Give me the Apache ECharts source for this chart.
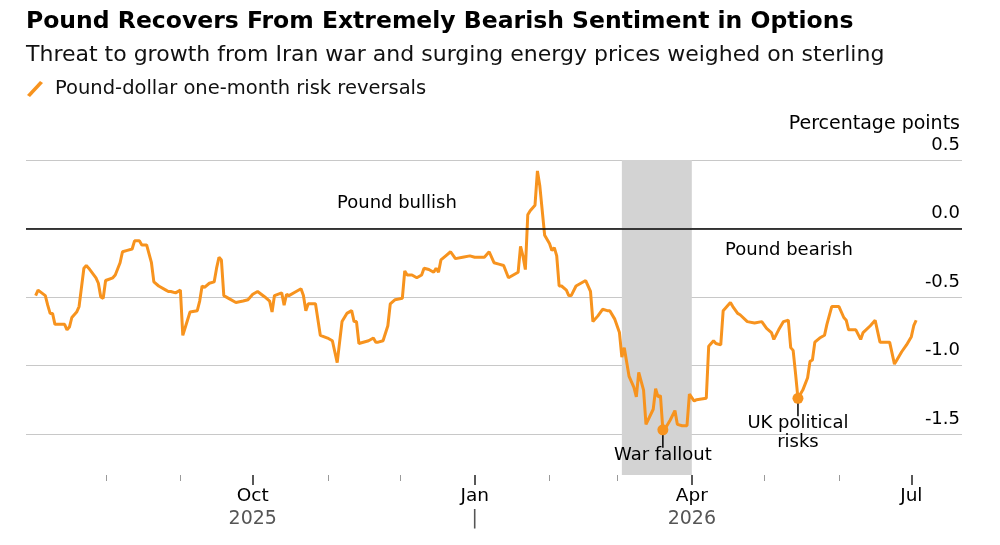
<!DOCTYPE html>
<html>
<head>
    <meta charset="utf-8">
    <title>Pound risk reversals</title>
    <script src="https://cdn.jsdelivr.net/npm/echarts@6/dist/echarts.min.js"></script>
    <style>
        html, body { margin: 0; padding: 0; background: #fff; }
        #main { width: 1000px; height: 545px; }
    </style>
</head>
<body>
<div id="main"></div>
<script>
    var titleText = 'Pound Recovers From Extremely Bearish Sentiment in Options';
    var subtitleText = 'Threat to growth from Iran war and surging energy prices weighed on sterling';
    var seriesName = 'Pound-dollar one-month risk reversals';

    // one-month risk reversals, percentage points
    var dates = [
        '2025-07-03', '2025-07-04', '2025-07-07', '2025-07-08', '2025-07-09', '2025-07-10', '2025-07-11', '2025-07-14', '2025-07-15', '2025-07-16', '2025-07-17', '2025-07-18', '2025-07-20', '2025-07-21', '2025-07-23', '2025-07-24', '2025-07-25', '2025-07-28', '2025-07-29', '2025-07-30', '2025-07-31',
        '2025-08-01', '2025-08-04', '2025-08-05', '2025-08-07', '2025-08-08', '2025-08-10', '2025-08-12', '2025-08-13', '2025-08-15', '2025-08-16', '2025-08-18', '2025-08-20', '2025-08-21', '2025-08-23', '2025-08-26', '2025-08-27', '2025-08-28', '2025-08-30',
        '2025-09-01', '2025-09-02', '2025-09-05', '2025-09-08', '2025-09-09', '2025-09-10', '2025-09-11', '2025-09-13', '2025-09-15', '2025-09-16', '2025-09-17', '2025-09-18', '2025-09-19', '2025-09-21', '2025-09-24', '2025-09-27', '2025-09-29',
        '2025-10-01', '2025-10-03', '2025-10-06', '2025-10-08', '2025-10-09', '2025-10-10', '2025-10-13', '2025-10-14', '2025-10-15', '2025-10-16', '2025-10-19', '2025-10-21', '2025-10-22', '2025-10-23', '2025-10-24', '2025-10-27', '2025-10-29',
        '2025-11-01', '2025-11-03', '2025-11-05', '2025-11-07', '2025-11-09', '2025-11-11', '2025-11-12', '2025-11-13', '2025-11-14', '2025-11-18', '2025-11-20', '2025-11-21', '2025-11-22', '2025-11-24', '2025-11-26', '2025-11-27', '2025-11-29',
        '2025-12-02', '2025-12-03', '2025-12-04', '2025-12-06', '2025-12-08', '2025-12-10', '2025-12-11', '2025-12-13', '2025-12-15', '2025-12-16', '2025-12-17', '2025-12-18', '2025-12-20', '2025-12-22', '2025-12-24', '2025-12-27', '2025-12-30',
        '2026-01-01', '2026-01-05', '2026-01-07', '2026-01-09', '2026-01-11', '2026-01-13', '2026-01-15', '2026-01-17', '2026-01-19', '2026-01-20', '2026-01-21', '2026-01-22', '2026-01-23', '2026-01-24', '2026-01-26', '2026-01-27', '2026-01-28', '2026-01-30',
        '2026-02-01', '2026-02-02', '2026-02-03', '2026-02-04', '2026-02-05', '2026-02-06', '2026-02-08', '2026-02-09', '2026-02-10', '2026-02-12', '2026-02-14', '2026-02-16', '2026-02-18', '2026-02-19', '2026-02-21', '2026-02-23', '2026-02-25', '2026-02-26', '2026-02-28',
        '2026-03-02', '2026-03-03', '2026-03-04', '2026-03-06', '2026-03-08', '2026-03-09', '2026-03-10', '2026-03-12', '2026-03-13', '2026-03-16', '2026-03-17', '2026-03-18', '2026-03-19', '2026-03-20', '2026-03-21', '2026-03-23', '2026-03-25', '2026-03-26', '2026-03-28', '2026-03-30', '2026-03-31',
        '2026-04-02', '2026-04-03', '2026-04-07', '2026-04-08', '2026-04-10', '2026-04-11', '2026-04-13', '2026-04-14', '2026-04-16', '2026-04-17', '2026-04-18', '2026-04-20', '2026-04-21', '2026-04-24', '2026-04-27', '2026-04-30',
        '2026-05-02', '2026-05-04', '2026-05-05', '2026-05-07', '2026-05-09', '2026-05-11', '2026-05-12', '2026-05-13', '2026-05-14', '2026-05-15', '2026-05-17', '2026-05-19', '2026-05-20', '2026-05-21', '2026-05-22', '2026-05-24', '2026-05-26', '2026-05-27', '2026-05-29',
        '2026-06-01', '2026-06-03', '2026-06-04', '2026-06-05', '2026-06-07', '2026-06-08', '2026-06-10', '2026-06-11', '2026-06-14', '2026-06-16', '2026-06-18', '2026-06-22', '2026-06-24', '2026-06-25', '2026-06-27', '2026-06-29',
        '2026-07-01', '2026-07-02', '2026-07-03'
    ];
    var values = [
        -0.49, -0.45, -0.49, -0.56, -0.62, -0.62, -0.70, -0.70, -0.70, -0.74, -0.72, -0.65, -0.61, -0.57, -0.29, -0.27, -0.29, -0.36, -0.40, -0.50, -0.51,
        -0.38, -0.36, -0.34, -0.25, -0.17, -0.16, -0.15, -0.09, -0.09, -0.12, -0.12, -0.25, -0.39, -0.42, -0.45, -0.46, -0.46, -0.47,
        -0.45, -0.78, -0.61, -0.60, -0.53, -0.42, -0.43, -0.40, -0.39, -0.29, -0.21, -0.23, -0.49, -0.51, -0.54, -0.53, -0.52,
        -0.48, -0.46, -0.50, -0.53, -0.61, -0.49, -0.47, -0.56, -0.48, -0.49, -0.46, -0.44, -0.49, -0.60, -0.55, -0.55, -0.78,
        -0.80, -0.82, -0.98, -0.68, -0.62, -0.60, -0.68, -0.68, -0.84, -0.82, -0.80, -0.83, -0.83, -0.82, -0.71, -0.55, -0.52,
        -0.51, -0.31, -0.34, -0.34, -0.36, -0.34, -0.29, -0.30, -0.32, -0.29, -0.32, -0.23, -0.20, -0.17, -0.22, -0.21, -0.20,
        -0.21, -0.21, -0.17, -0.25, -0.26, -0.27, -0.36, -0.34, -0.32, -0.13, -0.20, -0.30, 0.10, 0.13, 0.17, 0.42, 0.31, -0.05,
        -0.11, -0.16, -0.14, -0.20, -0.42, -0.42, -0.45, -0.49, -0.49, -0.42, -0.40, -0.38, -0.46, -0.68, -0.64, -0.59, -0.60, -0.60, -0.66,
        -0.76, -0.94, -0.87, -1.08, -1.16, -1.23, -1.05, -1.18, -1.43, -1.32, -1.17, -1.23, -1.22, -1.47, -1.46, -1.40, -1.33, -1.43, -1.44, -1.44, -1.21,
        -1.26, -1.25, -1.24, -0.86, -0.82, -0.84, -0.85, -0.60, -0.56, -0.54, -0.57, -0.62, -0.63, -0.68, -0.69, -0.68,
        -0.73, -0.76, -0.81, -0.74, -0.68, -0.67, -0.87, -0.89, -1.06, -1.24, -1.18, -1.09, -0.97, -0.96, -0.83, -0.80, -0.78, -0.70, -0.57,
        -0.57, -0.65, -0.67, -0.74, -0.74, -0.74, -0.81, -0.76, -0.71, -0.67, -0.83, -0.83, -0.99, -0.96, -0.90, -0.85,
        -0.79, -0.71, -0.67
    ];

    // shaded war period
    var warPeriod = ['2026-03-03', '2026-04-01'];

    // annotated points
    var noteDates = ['2026-03-20', '2026-05-15'];
    var noteValues = [-1.47, -1.24];
    var noteLabels = ['War fallout', 'UK political\nrisks'];

    // axis ticks and labels
    var xRange = ['2025-06-29', '2026-07-22'];
    var minorMonths = ['2025-08-01', '2025-09-01', '2025-11-01', '2025-12-01', '2026-02-01', '2026-03-01', '2026-05-01', '2026-06-01'];
    var majorMonths = ['2025-10-01', '2026-01-01', '2026-04-01', '2026-07-01'];
    var monthLabels = ['Oct', 'Jan', 'Apr', 'Jul'];
    var yearLabels = ['2025', '|', '2026', ''];
    var yTicks = [0.5, 0, -0.5, -1.0, -1.5];
    var yRange = [-1.8, 0.5];

    var FONT = 'DejaVu Sans';
    var ORANGE = '#f7931e';

    // dates -> timestamps for the value axis
    function ts(d) { return +echarts.time.parse(d); }
    var majorTs = majorMonths.map(ts);

    var lineData = dates.map(function (d, i) { return [ts(d), values[i]]; });
    var noteData = noteDates.map(function (d, i) { return [ts(d), noteValues[i]]; });
    var minorData = minorMonths.map(function (d) { return [ts(d), yRange[0]]; });

    var myChart = echarts.init(document.getElementById('main'), null, {renderer: 'canvas'});

    var option = {
        animation: false,
        title: [{
            text: titleText,
            left: 26,
            top: 10,
            padding: 0,
            textStyle: {fontFamily: FONT, fontSize: 23.5, fontWeight: 'bold', color: '#000'}
        }, {
            text: subtitleText,
            left: 26,
            top: 44,
            padding: 0,
            textStyle: {fontFamily: FONT, fontSize: 22, fontWeight: 'normal', color: '#111'}
        }],
        legend: {
            data: [seriesName],
            left: 27,
            top: 79,
            padding: 0,
            selectedMode: false,
            icon: 'path://M13,0 L16,2 L3,16 L0,14 Z',
            itemWidth: 30,
            itemHeight: 16,
            textStyle: {fontFamily: FONT, fontSize: 19.5, color: '#111'}
        },
        grid: {left: 26, right: 38, top: 160, bottom: 70, outerBoundsMode: 'none'},
        xAxis: {
            type: 'value',
            position: 'bottom',
            min: ts(xRange[0]),
            max: ts(xRange[1]),
            axisLine: {show: false, onZero: false},
            splitLine: {show: false},
            axisTick: {show: true, customValues: majorTs, length: 10, lineStyle: {color: '#222', width: 1.5}},
            axisLabel: {
                customValues: majorTs,
                margin: 10,
                formatter: function (v) {
                    var i = majorTs.indexOf(+v);
                    if (i < 0) return '';
                    var s = '{m|' + monthLabels[i] + '}';
                    if (yearLabels[i]) s += '\n{y|' + yearLabels[i] + '}';
                    return s;
                },
                rich: {
                    m: {fontFamily: FONT, fontSize: 18.5, color: '#000', lineHeight: 22},
                    y: {fontFamily: FONT, fontSize: 19, color: '#555', lineHeight: 24}
                }
            }
        },
        yAxis: {
            type: 'value',
            position: 'right',
            min: yRange[0],
            max: yRange[1],
            axisLine: {show: false},
            axisTick: {show: false, customValues: yTicks},
            splitLine: {show: true, lineStyle: {color: '#c8c8c8', width: 1}},
            axisLabel: {
                customValues: yTicks,
                inside: true,
                margin: 2,
                verticalAlign: 'bottom',
                padding: [0, 0, 6, 0],
                fontFamily: FONT,
                fontSize: 18,
                color: '#000',
                formatter: function (v) { return (+v).toFixed(1); }
            }
        },
        graphic: [{
            type: 'text',
            right: 40,
            top: 115,
            style: {text: 'Percentage points', font: '19px "DejaVu Sans"', fill: '#000'}
        }, {
            type: 'text',
            left: 337,
            top: 194,
            style: {text: 'Pound bullish', font: '18px "DejaVu Sans"', fill: '#000'}
        }, {
            type: 'text',
            left: 725,
            top: 241,
            style: {text: 'Pound bearish', font: '18px "DejaVu Sans"', fill: '#000'}
        }],
        series: [{
            name: seriesName,
            type: 'line',
            data: lineData,
            symbol: 'none',
            z: 3,
            color: ORANGE,
            lineStyle: {color: ORANGE, width: 3},
            markArea: {
                silent: true,
                itemStyle: {color: '#d3d3d3'},
                data: [[{xAxis: ts(warPeriod[0])}, {xAxis: ts(warPeriod[1])}]]
            },
            markLine: {
                silent: true,
                symbol: ['none', 'none'],
                label: {show: false},
                lineStyle: {color: '#000', width: 1.5, type: 'solid'},
                data: [{yAxis: 0}]
            }
        }, {
            // small month ticks under the plot
            name: 'months',
            type: 'custom',
            data: minorData,
            silent: true,
            renderItem: function (params, api) {
                var p = api.coord([api.value(0), api.value(1)]);
                var x = Math.round(p[0]) + 0.5;
                return {
                    type: 'line',
                    shape: {x1: x, y1: p[1], x2: x, y2: p[1] + 6},
                    style: {stroke: '#9a9a9a', lineWidth: 1}
                };
            }
        }, {
            name: 'notes',
            type: 'custom',
            data: noteData,
            z: 4,
            renderItem: function (params, api) {
                var p = api.coord([api.value(0), api.value(1)]);
                return {
                    type: 'group',
                    children: [{
                        type: 'line',
                        shape: {x1: p[0], y1: p[1], x2: p[0], y2: p[1] + 18},
                        style: {stroke: '#000', lineWidth: 1.5}
                    }, {
                        type: 'circle',
                        shape: {cx: p[0], cy: p[1], r: 5.5},
                        style: {fill: ORANGE}
                    }, {
                        type: 'text',
                        x: p[0],
                        y: p[1] + 16,
                        style: {
                            text: noteLabels[params.dataIndex],
                            font: '18px "DejaVu Sans"',
                            fill: '#000',
                            align: 'center',
                            verticalAlign: 'top',
                            lineHeight: 19
                        }
                    }]
                };
            }
        }]
    };

    myChart.setOption(option);
</script>
</body>
</html>
